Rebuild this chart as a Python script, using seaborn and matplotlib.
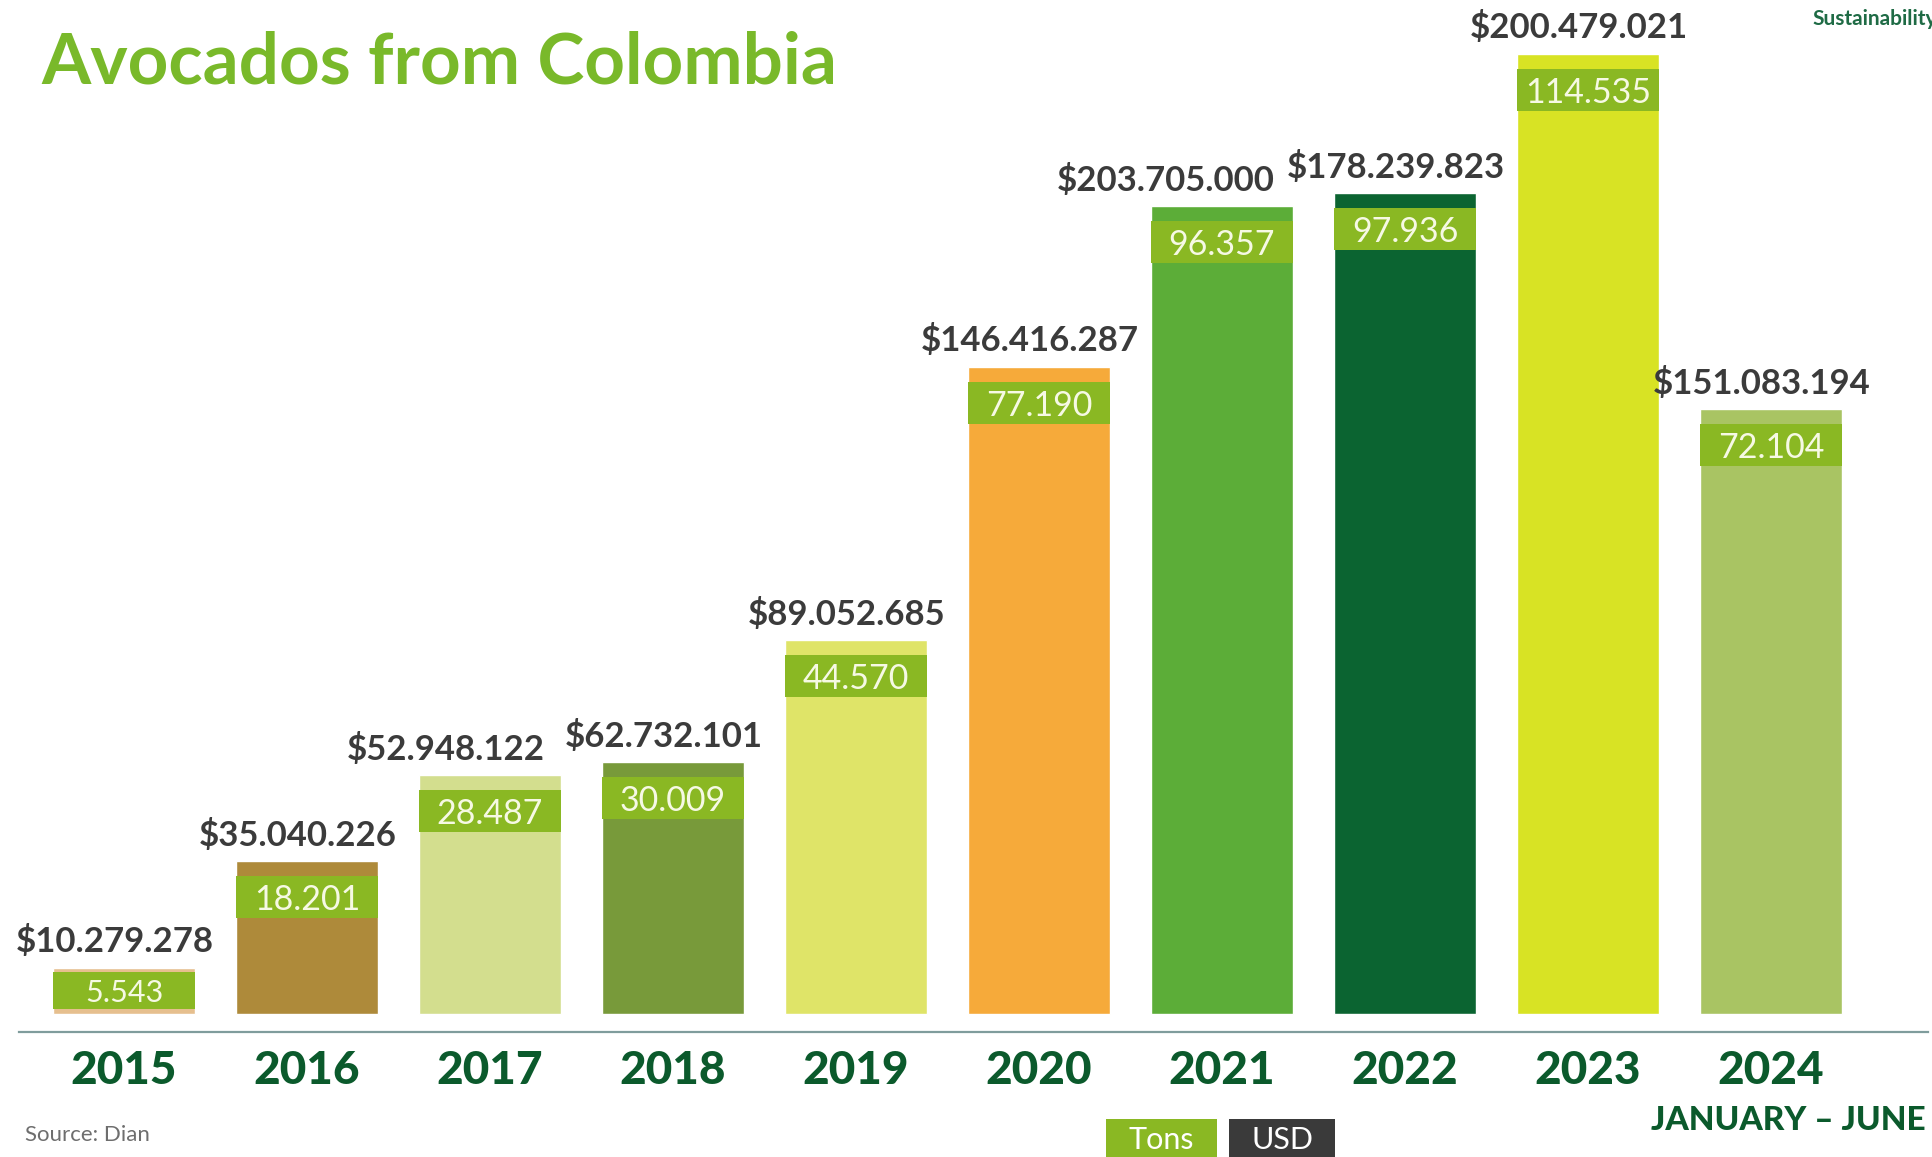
import numpy as np
import pandas as pd
import seaborn as sns
import matplotlib.pyplot as plt
from matplotlib.patches import Rectangle

# data
years = ['2015', '2016', '2017', '2018', '2019', '2020', '2021', '2022', '2023', '2024']
tons = [5543, 18201, 28487, 30009, 44570, 77190, 96357, 97936, 114535, 72104]
usd = [10279278, 35040226, 52948122, 62732101, 89052685, 146416287,
       203705000, 178239823, 200479021, 151083194]
bar_colors = ['#e6bf8e', '#ae8a3a', '#d3de8e', '#789a3a', '#dfe468',
              '#f6aa3a', '#5cad38', '#0b6431', '#d8e324', '#a9c463']

band_color = '#8ab823'
dark_green = '#0b5a2c'

# small sideways nudges for the USD labels so they don't collide
usd_shift = {'2017': -0.19, '2021': -0.26}


def dots(n):
    return f'{n:,}'.replace(',', '.')


sns.set_theme(style='white')
plt.rcParams['font.family'] = ['Lato', 'DejaVu Sans']

W, H = 1933, 1157
fig = plt.figure(figsize=(W / 100, H / 100), dpi=100)
fig.patch.set_facecolor('white')

# axes bottom sits on the grey base line
ax = fig.add_axes([19 / W, 125 / H, (1928 - 19) / W, 1032 / H])
px_per_ton = 0.008385

df = pd.DataFrame({'year': years, 'tons': tons})
sns.barplot(data=df, x='year', y='tons', hue='year', palette=bar_colors,
            legend=False, width=0.78, saturation=1, ax=ax)

ax.set_xlim((19 - 124) / 183, (1928 - 124) / 183)
ax.set_ylim(-18 / px_per_ton, 1014 / px_per_ton)

for p, yr, t, u in zip(ax.patches, years, tons, usd):
    x0, w, top = p.get_x(), p.get_width(), p.get_height()
    if top > 10000:
        off, hgt, fs = 15 / px_per_ton, 42 / px_per_ton, 24.5
    else:
        off, hgt, fs = 4 / px_per_ton, top - 9 / px_per_ton, 22
    ax.add_patch(Rectangle((x0, top - off - hgt), w, hgt, color=band_color, lw=0, zorder=3))
    ax.text(x0 + w / 2, top - off - hgt / 2, dots(t), ha='center', va='center_baseline',
            fontsize=fs, color='#f6f9e4', zorder=4)
    cx = x0 + w / 2 - 0.05 + usd_shift.get(yr, 0)
    ax.annotate('$' + dots(u), (cx, top), xytext=(0, 11), textcoords='offset points',
                ha='center', va='baseline', fontsize=25, fontweight='bold', color='#3b3b3b')

sns.despine(ax=ax, left=True, top=True, right=True)
ax.spines['bottom'].set_color('#7f9c9c')
ax.spines['bottom'].set_linewidth(1.6)
ax.set_yticks([])
ax.set_xlabel('')
ax.set_ylabel('')
ax.set_facecolor('none')
ax.tick_params(axis='x', length=0, pad=13)
for lab in ax.get_xticklabels():
    lab.set_fontweight('black')
    lab.set_fontsize(33)
    lab.set_color(dark_green)
    lab.set_va('top')

# titles and notes
fig.text(41 / W, 1 - 84 / H, 'Avocados from Colombia', fontsize=51, fontweight='bold',
         color='#79b92a', ha='left', va='baseline')
fig.text(1812 / W, 1 - 25 / H, 'Sustainability', fontsize=15, fontweight='bold',
         color='#1f6b45', ha='left', va='baseline')
fig.text(1926 / W, 1 - 1130 / H, 'JANUARY \u2013 JUNE', fontsize=24, fontweight='black',
         color=dark_green, ha='right', va='baseline')
fig.text(25 / W, 1 - 1141 / H, 'Source: Dian', fontsize=16,
         color='#6e6e6e', ha='left', va='baseline')

# legend boxes at the bottom
for x0, x1, lab, col in [(1106, 1217, 'Tons', band_color), (1229, 1335, 'USD', '#3a3a3a')]:
    fig.patches.append(Rectangle((x0 / W, -0.01), (x1 - x0) / W, (1157 - 1119) / H + 0.01,
                                 transform=fig.transFigure, color=col, lw=0))
    fig.text((x0 + x1) / 2 / W, 1 - 1149 / H, lab, fontsize=22, color='white',
             ha='center', va='baseline')

fig.savefig('out.png', dpi=100, facecolor='white')
